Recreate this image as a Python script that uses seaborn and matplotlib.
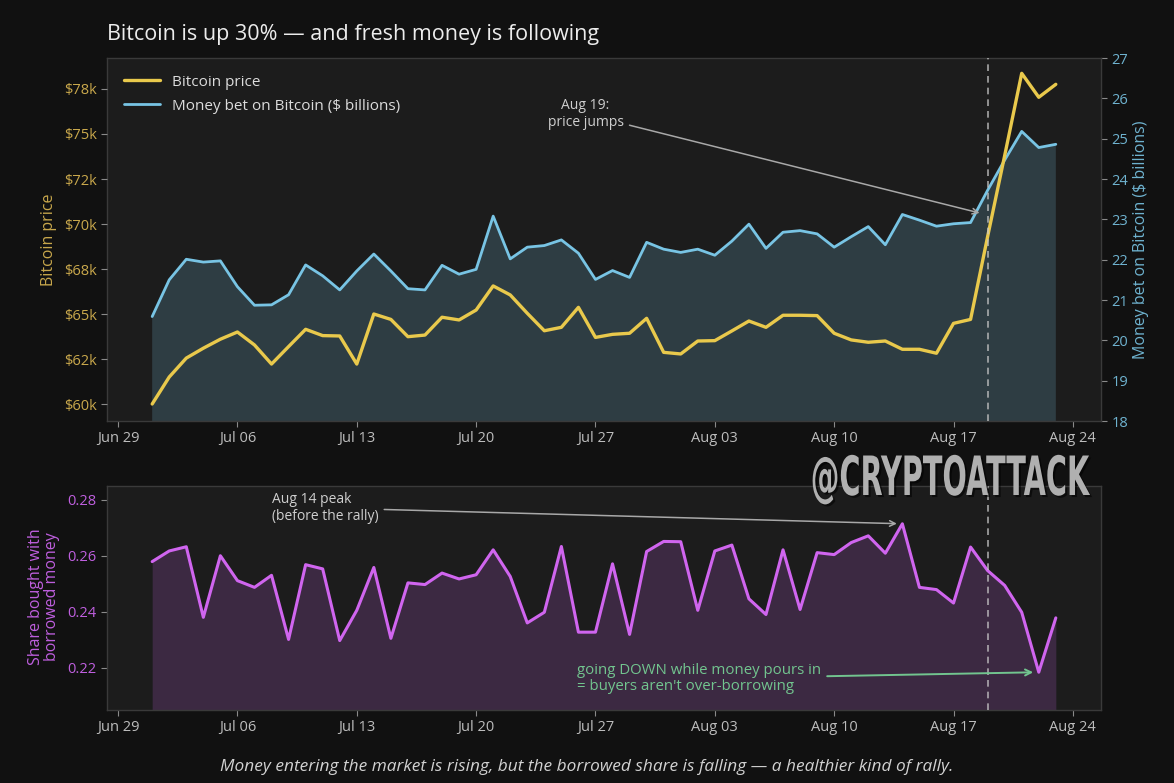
import numpy as np
import pandas as pd
import matplotlib
matplotlib.use("Agg")
import matplotlib.pyplot as plt
import matplotlib.dates as mdates
import matplotlib.colors as mcolors
from matplotlib.ticker import FuncFormatter, MultipleLocator, FormatStrFormatter
from matplotlib.patheffects import AbstractPathEffect
from matplotlib.transforms import Affine2D
import seaborn as sns

# ---------------- data ----------------
dates = pd.date_range("2025-07-01", "2025-08-23", freq="D")

price = [60000, 61500, 62550, 63100, 63600, 64000, 63280, 62220, 63190, 64150,
         63800, 63780, 62220, 65000, 64700, 63740, 63830, 64820, 64670, 65220,
         66560, 66060, 65040, 64070, 64260, 65370, 63700, 63870, 63930, 64760,
         62870,
         62780, 63500, 63520, 64060, 64610, 64260, 64930, 64930, 64910, 63930,
         63560, 63430, 63500, 63040, 63040, 62820, 64480, 64700, 69300, 73800,
         78370, 77040, 77760]

money = [20.59, 21.50, 22.01, 21.94, 21.97, 21.33, 20.87, 20.88, 21.13, 21.87,
         21.60, 21.25, 21.72, 22.14, 21.72, 21.28, 21.25, 21.86, 21.64, 21.76,
         23.08, 22.02, 22.31, 22.35, 22.49, 22.16, 21.51, 21.73, 21.56, 22.43,
         22.26,
         22.18, 22.26, 22.11, 22.46, 22.88, 22.28, 22.68, 22.72, 22.64, 22.31,
         22.57, 22.82, 22.37, 23.12, 22.98, 22.83, 22.89, 22.92, 23.72, 24.47,
         25.18, 24.78, 24.86]

borrowed = [0.2580, 0.2618, 0.2633, 0.2381, 0.2601, 0.2512, 0.2488, 0.2531, 0.2302, 0.2569,
            0.2554, 0.2298, 0.2406, 0.2559, 0.2306, 0.2504, 0.2498, 0.2539, 0.2518, 0.2533,
            0.2622, 0.2527, 0.2361, 0.2399, 0.2634, 0.2328, 0.2328, 0.2572, 0.2320, 0.2616,
            0.2652,
            0.2651, 0.2406, 0.2618, 0.2639, 0.2447, 0.2391, 0.2622, 0.2409, 0.2612, 0.2605,
            0.2648, 0.2672, 0.2610, 0.2715, 0.2488, 0.2480, 0.2432, 0.2632, 0.2548, 0.2495,
            0.2399, 0.2185, 0.2379]

event_date = pd.Timestamp("2025-08-19")
peak_date = pd.Timestamp("2025-08-14")
low_date = pd.Timestamp("2025-08-22")

title = "Bitcoin is up 30% \u2014 and fresh money is following"
caption = ("Money entering the market is rising, but the borrowed share is falling "
           "\u2014 a healthier kind of rally.")

df = pd.DataFrame({"date": dates, "price": price, "money": money, "borrowed": borrowed})

# ---------------- style ----------------
FIG_BG = "#111111"
AX_BG = "#1c1c1c"
GOLD = "#e9c94c"
GOLD_TXT = "#c9a84c"
BLUE = "#78c4e4"
BLUE_TXT = "#6fb3d0"
PURPLE = "#d065ef"
PURPLE_TXT = "#bf5fdf"
GREEN = "#72c58f"
GRAY_TXT = "#bdbdbd"
SPINE = "#3a3a3a"

sns.set_style("dark", rc={"axes.facecolor": AX_BG, "figure.facecolor": FIG_BG,
                          "axes.edgecolor": SPINE, "grid.color": AX_BG})
plt.rcParams["font.family"] = ["Open Sans", "DejaVu Sans"]
plt.rcParams["axes.unicode_minus"] = False


class Squeeze(AbstractPathEffect):
    """Draw the text path squeezed horizontally about its right edge (condensed look)."""
    def __init__(self, sx, offset=(0, 0), color=None, alpha=1.0):
        super().__init__(offset)
        self.sx, self.color, self.alpha = sx, color, alpha

    def draw_path(self, renderer, gc, tpath, affine, rgbFace=None):
        ext = tpath.get_extents(affine)
        x0 = ext.x1
        sq = Affine2D().translate(-x0, 0).scale(self.sx, 1).translate(x0, 0)
        gc0 = renderer.new_gc()
        gc0.copy_properties(gc)
        face = rgbFace if self.color is None else mcolors.to_rgba(self.color)
        gc0.set_alpha(self.alpha)
        renderer.draw_path(gc0, tpath, affine + sq + self._offset_transform(renderer), face)
        gc0.restore()


W, H = 1174, 783
fig = plt.figure(figsize=(W / 100, H / 100), dpi=100, facecolor=FIG_BG)


def frac_box(l, t, r, b):
    return [l / W, 1 - b / H, (r - l) / W, (b - t) / H]


ax2 = fig.add_axes(frac_box(107, 58, 1101, 421))      # money axis (background)
ax = fig.add_axes(ax2.get_position(), sharex=ax2)       # price axis (front)
ax3 = fig.add_axes(frac_box(107, 486, 1101, 710), sharex=ax2)

ax2.set_facecolor(AX_BG)
ax.patch.set_visible(False)
ax.set_zorder(ax2.get_zorder() + 1)
ax2.yaxis.tick_right()
ax2.yaxis.set_label_position("right")

# money (right axis)
sns.lineplot(data=df, x="date", y="money", ax=ax2, color=BLUE, lw=2,
             label="Money bet on Bitcoin ($ billions)", legend=False)
ax2.fill_between(df["date"], df["money"], 0, color=BLUE, alpha=0.2, lw=0)

# price (left axis)
sns.lineplot(data=df, x="date", y="price", ax=ax, color=GOLD, lw=2.4,
             label="Bitcoin price", legend=False)

# borrowed share
sns.lineplot(data=df, x="date", y="borrowed", ax=ax3, color=PURPLE, lw=2.2, legend=False)
ax3.fill_between(df["date"], df["borrowed"], 0, color=PURPLE, alpha=0.18, lw=0)
ax3.set_facecolor(AX_BG)

pad = pd.Timedelta(days=2.65)
ax2.set_xlim(dates[0] - pad, dates[-1] + pad)
ax.set_ylim(59056, 79222)
ax2.set_ylim(18, 27)
ax3.set_ylim(0.205, 0.285)

ax.yaxis.set_major_locator(MultipleLocator(2500))
ax.yaxis.set_major_formatter(FuncFormatter(lambda v, p: f"${v / 1000:.0f}k"))
ax2.yaxis.set_major_locator(MultipleLocator(1))
ax3.yaxis.set_major_locator(MultipleLocator(0.02))
ax3.yaxis.set_major_formatter(FormatStrFormatter("%.2f"))

for a in (ax2, ax3):
    a.xaxis.set_major_locator(mdates.WeekdayLocator(byweekday=mdates.SU))
    a.xaxis.set_major_formatter(mdates.DateFormatter("%b %d"))
ax.tick_params(axis="x", bottom=False, labelbottom=False)

tick_kw = dict(length=4, width=0.8, color="#8a8a8a", labelsize=10.5)
ax.tick_params(axis="y", left=True, labelleft=True, labelcolor=GOLD_TXT, **tick_kw)
ax2.tick_params(axis="y", right=True, labelright=True, left=False, labelleft=False,
                labelcolor=BLUE_TXT, **tick_kw)
ax2.tick_params(axis="x", bottom=True, labelcolor=GRAY_TXT, **tick_kw)
ax3.tick_params(axis="y", left=True, labelcolor=PURPLE_TXT, **tick_kw)
ax3.tick_params(axis="x", bottom=True, labelcolor=GRAY_TXT, **tick_kw)

for a in (ax, ax2, ax3):
    a.grid(False)
    a.set_xlabel("")
    for s in a.spines.values():
        s.set_color(SPINE)
        s.set_linewidth(1.0)
ax.spines[:].set_visible(False)

ax.set_ylabel("Bitcoin price", color=GOLD_TXT, fontsize=11.5)
ax.yaxis.set_label_coords(-0.050, 0.5)
ax2.set_ylabel("Money bet on Bitcoin ($ billions)", color=BLUE_TXT, fontsize=11.5)
ax2.yaxis.set_label_coords(1.032, 0.5)
ax3.set_ylabel("Share bought with\nborrowed money", color=PURPLE_TXT, fontsize=11.5,
               linespacing=1.05)
ax3.yaxis.set_label_coords(-0.047, 0.505)

# event line
for a in (ax, ax3):
    a.axvline(event_date, color="#c8c8c8", lw=1.2, ls=(0, (4, 3)), alpha=0.8, zorder=5)

# legend
h1, l1 = ax.get_legend_handles_labels()
h2, l2 = ax2.get_legend_handles_labels()
leg = ax.legend(h1 + h2, l1 + l2, loc="upper left", frameon=False, fontsize=11,
                handlelength=2.4, handletextpad=0.75, labelspacing=0.58,
                borderaxespad=0.7)
for t in leg.get_texts():
    t.set_color("#dcdcdc")

# annotations
ax.annotate("Aug 19:\nprice jumps", xy=(event_date, 70500),
            xytext=(pd.Timestamp("2025-07-26 10:00"), 76100),
            ha="center", va="center", color="#cfcfcf", fontsize=10,
            arrowprops=dict(arrowstyle="->", color="#a8a8a8", lw=1.1,
                            shrinkA=2, shrinkB=6), zorder=6)
ax3.annotate("Aug 14 peak\n(before the rally)",
             xy=(peak_date, borrowed[list(dates).index(peak_date)]),
             xytext=(pd.Timestamp("2025-07-08"), 0.2772),
             ha="left", va="center", color="#cfcfcf", fontsize=10,
             arrowprops=dict(arrowstyle="->", color="#a8a8a8", lw=1.1,
                             shrinkA=2, shrinkB=4), zorder=6)
ax3.annotate("going DOWN while money pours in\n= buyers aren't over-borrowing",
             xy=(low_date, borrowed[list(dates).index(low_date)]),
             xytext=(pd.Timestamp("2025-07-25 22:00"), 0.2162),
             ha="left", va="center", color=GREEN, fontsize=10.8,
             linespacing=1.05,
             arrowprops=dict(arrowstyle="->", color=GREEN, lw=1.4,
                             shrinkA=2, shrinkB=4), zorder=6)

# title & caption
fig.text(107 / W, 1 - 40 / H, title, color="#ececec", fontsize=15.5,
         ha="left", va="baseline")
fig.text(0.5, 1 - 767 / H, caption, color="#d2d2d2", fontsize=12.4, style="italic",
         ha="center", va="center")

# watermark
fig.text(1088 / W, 1 - 495 / H, "@CRYPTOATTACK", color="#b0b0b0", fontsize=39,
         fontweight="bold", family="DejaVu Sans", ha="right", va="baseline",
         path_effects=[Squeeze(0.53, (1.5, -1.5), "#000000", 0.55), Squeeze(0.53)],
         alpha=0.95, zorder=10)

fig.savefig("out.png", dpi=100, facecolor=FIG_BG)
